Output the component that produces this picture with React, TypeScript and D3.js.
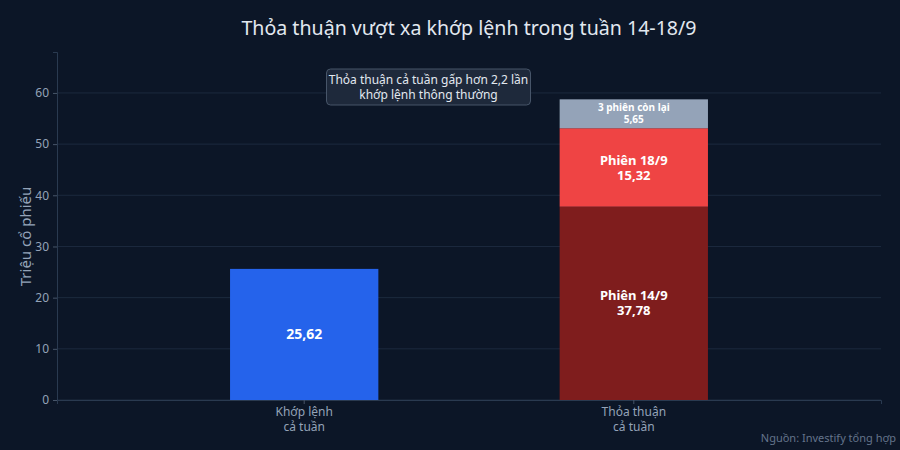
import { useEffect, useRef } from 'react';
import * as d3 from 'd3';

// Dữ liệu
const categories = ['Khớp lệnh\ncả tuần', 'Thỏa thuận\ncả tuần'];
const matchedTotal = 25.62;
const segmentNames = ['Phiên 14/9', 'Phiên 18/9', '3 phiên còn lại'];
const segmentValues = [37.78, 15.32, 5.65];
const segmentColors = ['#7f1d1d', '#ef4444', '#94a3b8'];
const yTicks = [0, 10, 20, 30, 40, 50, 60];

const fmt = (v: number) => v.toFixed(2).replace('.', ',');

export default function App() {
  const svgRef = useRef<SVGSVGElement>(null);

  useEffect(() => {
    document.body.style.margin = '0';
    document.body.style.background = '#0c1627';
    if (!svgRef.current) return;

    const W = 900;
    const H = 450;
    const margin = { top: 52, right: 19, bottom: 50, left: 57 };
    const width = W - margin.left - margin.right;
    const height = H - margin.top - margin.bottom;
    const font = "'Noto Sans', 'Open Sans', sans-serif";

    const root = d3.select(svgRef.current);
    root.selectAll('*').remove();
    root.attr('width', W).attr('height', H).style('font-family', font);

    root.append('rect').attr('width', W).attr('height', H).attr('fill', '#0c1627');

    const svg = root.append('g').attr('transform', `translate(${margin.left},${margin.top})`);

    const x = d3.scaleBand().domain(categories).range([0, width]).paddingInner(0.55).paddingOuter(0.525);
    const y = d3.scaleLinear().domain([0, 68]).range([height, 0]);

    // Lưới
    svg
      .append('g')
      .selectAll('line')
      .data(yTicks)
      .enter()
      .append('line')
      .attr('x1', 0)
      .attr('x2', width)
      .attr('y1', (d) => y(d))
      .attr('y2', (d) => y(d))
      .attr('stroke', '#1c2a3e')
      .attr('stroke-width', 1);

    // Trục Y
    const yAxis = svg.append('g').call(d3.axisLeft(y).tickValues(yTicks).tickSize(4).tickPadding(4));
    yAxis.select('.domain').attr('stroke', '#2a3a50');
    yAxis.selectAll('.tick line').attr('stroke', '#475569');
    yAxis.selectAll('.tick text').attr('fill', '#94a3b8').style('font-size', '12px').style('font-family', font);

    // Cột khớp lệnh
    const x0 = x(categories[0]) || 0;
    svg
      .append('rect')
      .attr('x', x0)
      .attr('y', y(matchedTotal))
      .attr('width', x.bandwidth())
      .attr('height', height - y(matchedTotal))
      .attr('fill', '#2563eb');

    svg
      .append('text')
      .attr('x', x0 + x.bandwidth() / 2)
      .attr('y', y(matchedTotal / 2))
      .attr('dy', '0.35em')
      .attr('text-anchor', 'middle')
      .attr('fill', '#ffffff')
      .style('font-size', '14px')
      .style('font-weight', 'bold')
      .text(fmt(matchedTotal));

    // Cột thỏa thuận (chồng)
    const x1 = x(categories[1]) || 0;
    const cx = x1 + x.bandwidth() / 2;
    let acc = 0;
    segmentValues.forEach((v, i) => {
      const lo = acc;
      const hi = acc + v;
      acc = hi;
      svg
        .append('rect')
        .attr('x', x1)
        .attr('y', y(hi))
        .attr('width', x.bandwidth())
        .attr('height', y(lo) - y(hi))
        .attr('fill', segmentColors[i]);

      const small = i === 2;
      const fs = small ? 10 : 13;
      const cy = y((lo + hi) / 2);
      const gap = small ? 12 : 15;
      [segmentNames[i], fmt(v)].forEach((line, j) => {
        svg
          .append('text')
          .attr('x', cx)
          .attr('y', cy + (j === 0 ? -gap / 2 : gap / 2))
          .attr('dy', '0.35em')
          .attr('text-anchor', 'middle')
          .attr('fill', '#ffffff')
          .style('font-size', `${fs}px`)
          .style('font-weight', 'bold')
          .text(line);
      });
    });

    // Trục X
    const xAxis = svg
      .append('g')
      .attr('transform', `translate(0,${height})`)
      .call(d3.axisBottom(x).tickSize(4).tickFormat(() => ''));
    xAxis.select('.domain').attr('stroke', '#2a3a50');
    xAxis.selectAll('.tick line').attr('stroke', '#475569');
    xAxis.selectAll('.tick').each(function (d) {
      const lines = (d as string).split('\n');
      lines.forEach((l, i) => {
        d3.select(this)
          .append('text')
          .attr('x', 0)
          .attr('y', 16 + i * 15)
          .attr('text-anchor', 'middle')
          .attr('fill', '#94a3b8')
          .style('font-size', '12px')
          .style('font-family', font)
          .text(l);
      });
    });

    // Nhãn trục Y
    svg
      .append('text')
      .attr('transform', 'rotate(-90)')
      .attr('x', -(y(40) + (y(20) - y(40)) / 2) + 10)
      .attr('y', -margin.left + 31)
      .attr('text-anchor', 'middle')
      .attr('fill', '#94a3b8')
      .style('font-size', '15px')
      .text('Triệu cổ phiếu');

    // Chú thích
    const note = svg.append('g').attr('transform', `translate(${428.5 - margin.left},${87 - margin.top})`);
    note
      .append('rect')
      .attr('x', -102)
      .attr('y', -18)
      .attr('width', 204)
      .attr('height', 36)
      .attr('rx', 4)
      .attr('fill', '#1e293b')
      .attr('stroke', '#475569')
      .attr('stroke-width', 1);
    ['Thỏa thuận cả tuần gấp hơn 2,2 lần', 'khớp lệnh thông thường'].forEach((line, i) => {
      note
        .append('text')
        .attr('x', 0)
        .attr('y', -3 + i * 15)
        .attr('text-anchor', 'middle')
        .attr('fill', '#e2e8f0')
        .style('font-size', '12px')
        .text(line);
    });

    // Tiêu đề
    root
      .append('text')
      .attr('x', W / 2 + 19)
      .attr('y', 35)
      .attr('text-anchor', 'middle')
      .attr('fill', '#e2e8f0')
      .style('font-size', '19.6px')
      .text('Thỏa thuận vượt xa khớp lệnh trong tuần 14-18/9');

    // Nguồn
    root
      .append('text')
      .attr('x', W - 4)
      .attr('y', 442)
      .attr('text-anchor', 'end')
      .attr('fill', '#64748b')
      .style('font-size', '11px')
      .text('Nguồn: Investify tổng hợp');
  }, []);

  return <svg ref={svgRef} style={{ display: 'block' }} />;
}
